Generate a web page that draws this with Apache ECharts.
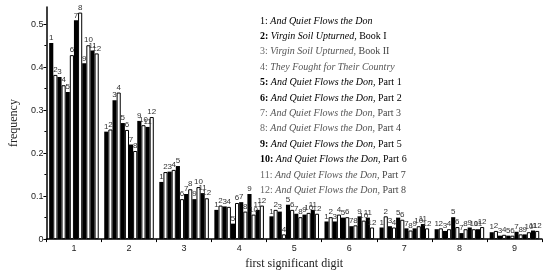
<!DOCTYPE html>
<html><head><meta charset="utf-8">
<script src="https://cdn.jsdelivr.net/npm/echarts@6/dist/echarts.min.js"></script>
<style>html,body{margin:0;padding:0;background:#fff}#c{width:550px;height:275px}</style>
</head><body><div id="c"></div>
<script>
const digits = ['1','2','3','4','5','6','7','8','9'];
const yTicks = [0, 0.1, 0.2, 0.3, 0.4, 0.5];
const names = [
  '1: And Quiet Flows the Don',
  '2: Virgin Soil Upturned, Book I',
  '3: Virgin Soil Upturned, Book II',
  '4: They Fought for Their Country',
  '5: And Quiet Flows the Don, Part 1',
  '6: And Quiet Flows the Don, Part 2',
  '7: And Quiet Flows the Don, Part 3',
  '8: And Quiet Flows the Don, Part 4',
  '9: And Quiet Flows the Don, Part 5',
  '10: And Quiet Flows the Don, Part 6',
  '11: And Quiet Flows the Don, Part 7',
  '12: And Quiet Flows the Don, Part 8'
];
const s1  = [0.456, 0.250, 0.133, 0.068, 0.053, 0.041, 0.027, 0.023, 0.016];
const s2  = [0.382, 0.255, 0.156, 0.078, 0.068, 0.051, 0.053, 0.025, 0.019];
const s3  = [0.377, 0.323, 0.157, 0.076, 0.064, 0.041, 0.030, 0.019, 0.008];
const s4  = [0.358, 0.341, 0.161, 0.075, 0.011, 0.057, 0.027, 0.023, 0.010];
const s5  = [0.342, 0.270, 0.170, 0.036, 0.080, 0.050, 0.050, 0.051, 0.008];
const s6  = [0.428, 0.254, 0.093, 0.084, 0.068, 0.051, 0.045, 0.028, 0.008];
const s7  = [0.509, 0.220, 0.105, 0.086, 0.059, 0.030, 0.025, 0.014, 0.017];
const s8  = [0.527, 0.205, 0.116, 0.064, 0.051, 0.032, 0.020, 0.023, 0.011];
const s9  = [0.409, 0.275, 0.093, 0.105, 0.057, 0.053, 0.025, 0.027, 0.011];
const s10 = [0.451, 0.265, 0.121, 0.057, 0.061, 0.043, 0.030, 0.023, 0.016];
const s11 = [0.439, 0.261, 0.107, 0.068, 0.068, 0.050, 0.035, 0.023, 0.020];
const s12 = [0.432, 0.284, 0.095, 0.078, 0.059, 0.027, 0.025, 0.028, 0.019];
const seriesValues = [s1,s2,s3,s4,s5,s6,s7,s8,s9,s10,s11,s12];

const serif = '"Liberation Serif", "DejaVu Serif", serif';
const sans = '"Liberation Sans", Arial, sans-serif';

function legendFmt(name) {
  const idx = names.indexOf(name);
  const dark = [0,1,4,5,8,9].includes(idx);
  const p = dark ? 'd' : 'g';
  const m = name.match(/^(\d+:)\s(.*)$/);
  const num = m[1], rest = m[2];
  let out = '{' + p + (idx === 0 ? 'r' : 'n') + '|' + num + '} ';
  const parts = rest.split(', ');
  out += '{' + p + 'i|' + parts[0] + (parts.length > 1 ? ',' : '') + '}';
  if (parts.length > 1) out += '{' + p + 'r| ' + parts[1] + '}';
  return out;
}

const chart = echarts.init(document.getElementById('c'), null, {renderer: 'canvas'});
chart.setOption({
  animation: false,
  backgroundColor: '#fff',
  grid: {left: 33, right: 8, top: 7, bottom: 30, containLabel: false},
  legend: {
    orient: 'vertical', left: 250, top: 11,
    icon: 'none', itemWidth: 0, itemHeight: 10, itemGap: 5.4,
    selectedMode: false,
    data: names,
    formatter: legendFmt,
    textStyle: {
      fontFamily: serif, fontSize: 10, padding: 0,
      rich: {
        dn: {fontFamily: serif, fontSize: 10, fontWeight: 'bold', color: '#000'},
        di: {fontFamily: serif, fontSize: 10, fontStyle: 'italic', color: '#000'},
        dr: {fontFamily: serif, fontSize: 10, color: '#000'},
        gn: {fontFamily: serif, fontSize: 10, color: '#666'},
        gi: {fontFamily: serif, fontSize: 10, fontStyle: 'italic', color: '#555'},
        gr: {fontFamily: serif, fontSize: 10, color: '#444'}
      }
    }
  },
  xAxis: {
    type: 'category', data: digits,
    name: 'first significant digit', nameLocation: 'middle', nameGap: 18,
    nameTextStyle: {fontFamily: serif, fontSize: 12, color: '#222'},
    axisLine: {lineStyle: {color: '#000', width: 1.5}},
    axisTick: {show: true, inside: false, length: 3, lineStyle: {color: '#000', width: 1}},
    axisLabel: {fontFamily: sans, fontSize: 9, color: '#222', margin: 5}
  },
  yAxis: {
    type: 'value', min: 0, max: 0.54, interval: 0.1,
    name: 'frequency', nameLocation: 'middle', nameGap: 22, nameRotate: 90,
    nameTextStyle: {fontFamily: serif, fontSize: 12, color: '#222'},
    axisLine: {show: true, lineStyle: {color: '#000', width: 1.5}},
    axisTick: {show: true, length: 3, customValues: yTicks, lineStyle: {color: '#000'}},
    minorTick: {show: true, splitNumber: 2, length: 2, lineStyle: {color: '#000'}},
    axisLabel: {fontFamily: sans, fontSize: 9, color: '#222', margin: 3, customValues: yTicks,
      formatter: v => (v === 0 ? '0' : String(+v.toFixed(1)))},
    splitLine: {show: false}
  },
  series: seriesValues.map((vals, i) => ({
    name: names[i],
    type: 'bar',
    data: vals,
    barGap: '0%',
    barCategoryGap: '10%',
    itemStyle: (i % 2 === 0)
      ? {color: '#000', borderColor: '#000', borderWidth: 0}
      : {color: '#fff', borderColor: '#000', borderWidth: 1},
    label: {show: true, position: 'top', distance: 1, fontFamily: sans, fontSize: 8, color: '#333',
      formatter: String(i + 1)}
  }))
});
</script></body></html>
